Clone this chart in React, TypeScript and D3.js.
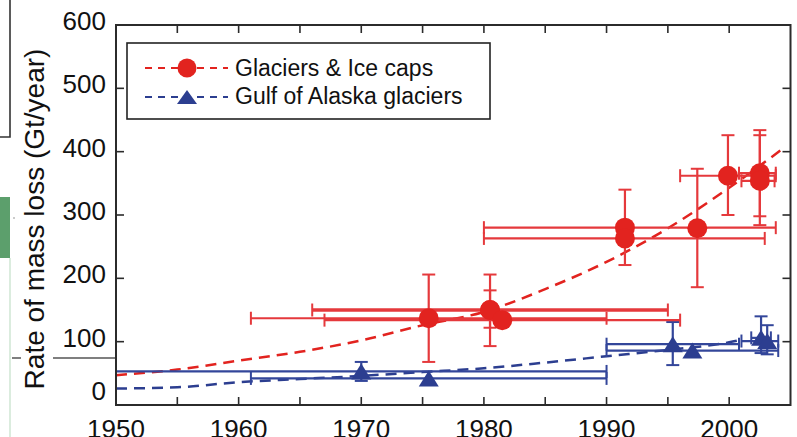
import React from "react";
import * as d3 from "d3";

// Glaciers & Ice caps estimates (Gt/year) with uncertainty ranges
const glacierYears = [1975.5, 1980.5, 1980.5, 1981.5, 1991.5, 1991.5, 1997.4, 1999.9, 2002.5, 2002.5];
const glacierValues = [137, 150, 150, 134, 280, 263, 279, 362, 366, 354];
const glacierYLo = [68, 93, 122, null, 221, null, 186, 300, 298, 284];
const glacierYHi = [206, 206, 181, null, 340, null, 373, 426, 434, 426];
const glacierXLo = [1961, 1966, null, 1967, 1980, 1980, null, 1996, 2000.8, 2001];
const glacierXHi = [1990, 1995, null, 1996, 2003.8, 2002.9, null, 2003.8, 2003.8, 2003.7];
const glacierBarWidth = [2.2, 3.5, 2.2, 2.2, 2.2, 2.2, 2.2, 2.2, 2.2, 2.2];

// Gulf of Alaska glaciers estimates
const alaskaYears = [1970, 1975.5, 1995.4, 1997, 2002.6, 2003.1];
const alaskaValues = [53, 42, 96, 86, 106, 101];
const alaskaYLo = [38, null, 63, null, 82, 80];
const alaskaYHi = [68, null, 131, null, 140, 126];
const alaskaXLo = [1950, 1961, 1990, 1990, 2001.8, 2001];
const alaskaXHi = [1990, 1990, 2000.8, 2004, 2003.4, 2004];

// Fitted trend curves
const glacierTrendYears = [1950, 1955, 1960, 1965, 1970, 1975, 1980, 1985, 1990, 1995, 2000, 2004.6];
const glacierTrendValues = [47, 56, 70, 84, 102, 126, 147, 183, 226, 279, 343, 408];
const alaskaTrendYears = [1950, 1955, 1960, 1965, 1970, 1975, 1980, 1985, 1990, 1995, 2000, 2001];
const alaskaTrendValues = [26, 28, 36, 41, 46, 52, 58, 67, 77, 87, 99, 103];

// Axis ticks
const yTickLabels = [0, 100, 200, 300, 400, 500, 600];
const yInnerTicks = [100, 200, 300, 400, 500];
const xTickLabels = [1950, 1960, 1970, 1980, 1990, 2000];
const xInnerTicks = [1955, 1960, 1965, 1970, 1975, 1980, 1985, 1990, 1995, 2000];

const legendLabels = ["Glaciers & Ice caps", "Gulf of Alaska glaciers"];

const W = 797;
const H = 437;
const RED = "#e2231f";
const RED_BAR = "#e5393c";
const BLUE = "#2c3e90";
const BLUE_BAR = "#33469a";
const FRAME = "#2b2b2b";
const FONT = "'Liberation Sans', Arial, Helvetica, sans-serif";

const x = d3.scaleLinear().domain([1950, 2005]).range([116, 790.5]);
const y = d3.scaleLinear().domain([0, 600]).range([405, 25]);

function triangle(w: number, h: number) {
  return `M0,${-h / 2}L${w / 2},${h / 2}L${-w / 2},${h / 2}Z`;
}

function ErrorBars(props: {
  xs: number[];
  vs: number[];
  yLo: (number | null)[];
  yHi: (number | null)[];
  xLo: (number | null)[];
  xHi: (number | null)[];
  color: string;
  widths?: number[];
}) {
  const { xs, vs, yLo, yHi, xLo, xHi, color, widths } = props;
  const cap = 6.5;
  return (
    <g stroke={color} fill="none">
      {xs.map((yr, i) => {
        const cx = x(yr);
        const cy = y(vs[i]);
        const sw = widths ? widths[i] : 2.2;
        const parts: React.ReactNode[] = [];
        const lo = xLo[i];
        const hi = xHi[i];
        if (lo !== null && hi !== null) {
          parts.push(
            <line key="h" x1={x(lo)} x2={x(hi)} y1={cy} y2={cy} strokeWidth={sw} />,
            <line key="hl" x1={x(lo)} x2={x(lo)} y1={cy - cap} y2={cy + cap} strokeWidth={2} />,
            <line key="hr" x1={x(hi)} x2={x(hi)} y1={cy - cap} y2={cy + cap} strokeWidth={2} />
          );
        }
        const b = yLo[i];
        const t = yHi[i];
        if (b !== null && t !== null) {
          parts.push(
            <line key="v" x1={cx} x2={cx} y1={y(b)} y2={y(t)} strokeWidth={2.2} />,
            <line key="vb" x1={cx - cap} x2={cx + cap} y1={y(b)} y2={y(b)} strokeWidth={2} />,
            <line key="vt" x1={cx - cap} x2={cx + cap} y1={y(t)} y2={y(t)} strokeWidth={2} />
          );
        }
        return <g key={i}>{parts}</g>;
      })}
    </g>
  );
}

export default function App() {
  const trend = d3
    .line<[number, number]>()
    .x((d) => x(d[0]))
    .y((d) => y(d[1]))
    .curve(d3.curveMonotoneX);

  const glacierTrend = trend(glacierTrendYears.map((yr, i) => [yr, glacierTrendValues[i]]));
  const alaskaTrend = trend(alaskaTrendYears.map((yr, i) => [yr, alaskaTrendValues[i]]));

  const [x0, x1] = x.range();
  const [yb, yt] = y.range();

  return (
    <svg
      width={W}
      height={H}
      viewBox={`0 0 ${W} ${H}`}
      style={{ position: "absolute", left: 0, top: 0, background: "#fff" }}
      fontFamily={FONT}
    >
      {/* neighbouring page elements at the left edge */}
      <path d="M10,0V137H0" stroke="#333" strokeWidth={1.6} fill="none" />
      <rect x={0} y={197} width={10} height={61} fill="#5c9f6c" />
      <line x1={10} x2={10} y1={258} y2={H} stroke="#cfe6d3" strokeWidth={1.5} />
      <line x1={12} x2={21} y1={358} y2={358} stroke="#555" strokeWidth={1.5} />
      <line x1={53} x2={116} y1={358} y2={358} stroke="#555" strokeWidth={1.5} />
      <circle cx={14} cy={218} r={0.8} fill="#888" />

      {/* y-axis title */}
      <text
        transform={`translate(44, 219) rotate(-90)`}
        textAnchor="middle"
        fontSize={28}
        fill="#111"
      >
        Rate of mass loss (Gt/year)
      </text>

      {/* tick labels */}
      {yTickLabels.map((v) => (
        <text
          key={`yl${v}`}
          x={106}
          y={Math.min(y(v) - 4, y(0) - 14)}
          textAnchor="end"
          dominantBaseline="central"
          fontSize={26}
          fill="#111"
        >
          {v}
        </text>
      ))}
      {xTickLabels.map((v) => (
        <text key={`xl${v}`} x={x(v)} y={438} textAnchor="middle" fontSize={26} fill="#111">
          {v}
        </text>
      ))}

      {/* trend curves */}
      <path d={alaskaTrend ?? ""} fill="none" stroke={BLUE} strokeWidth={2.5} strokeDasharray="11 7" />
      <path d={glacierTrend ?? ""} fill="none" stroke={RED} strokeWidth={2.5} strokeDasharray="11 7" />

      {/* uncertainty bars */}
      <ErrorBars
        xs={alaskaYears}
        vs={alaskaValues}
        yLo={alaskaYLo}
        yHi={alaskaYHi}
        xLo={alaskaXLo}
        xHi={alaskaXHi}
        color={BLUE_BAR}
      />
      <ErrorBars
        xs={glacierYears}
        vs={glacierValues}
        yLo={glacierYLo}
        yHi={glacierYHi}
        xLo={glacierXLo}
        xHi={glacierXHi}
        color={RED_BAR}
        widths={glacierBarWidth}
      />

      {/* markers */}
      {alaskaYears.map((yr, i) => (
        <path
          key={`a${i}`}
          d={triangle(20, 16)}
          transform={`translate(${x(yr)},${y(alaskaValues[i])})`}
          fill={BLUE}
        />
      ))}
      {glacierYears.map((yr, i) => (
        <circle key={`g${i}`} cx={x(yr)} cy={y(glacierValues[i])} r={10} fill={RED} />
      ))}

      {/* frame */}
      <rect x={x0} y={yt} width={x1 - x0} height={yb - yt} fill="none" stroke={FRAME} strokeWidth={2} />
      <g stroke={FRAME} strokeWidth={1.6}>
        {yInnerTicks.map((v) => (
          <g key={`yt${v}`}>
            <line x1={x0} x2={x0 + 8} y1={y(v)} y2={y(v)} />
            <line x1={x1} x2={x1 - 8} y1={y(v)} y2={y(v)} />
          </g>
        ))}
        {xInnerTicks.map((v) => (
          <g key={`xt${v}`}>
            <line x1={x(v)} x2={x(v)} y1={yb} y2={yb - 8} />
            <line x1={x(v)} x2={x(v)} y1={yt} y2={yt + 8} />
          </g>
        ))}
      </g>

      {/* legend */}
      <g>
        <rect x={127} y={43} width={363} height={76} fill="#fff" stroke="#222" strokeWidth={1.6} />
        <line x1={145} x2={228} y1={68} y2={68} stroke={RED} strokeWidth={2.2} strokeDasharray="7 6" />
        <circle cx={187} cy={68} r={9.5} fill={RED} />
        <text x={235} y={75.5} fontSize={23} fill="#111">
          {legendLabels[0]}
        </text>
        <line x1={145} x2={228} y1={97} y2={97} stroke={BLUE} strokeWidth={2.2} strokeDasharray="7 6" />
        <path d={triangle(20, 14)} transform="translate(187,97)" fill={BLUE} />
        <text x={235} y={104} fontSize={23} fill="#111">
          {legendLabels[1]}
        </text>
      </g>
    </svg>
  );
}
